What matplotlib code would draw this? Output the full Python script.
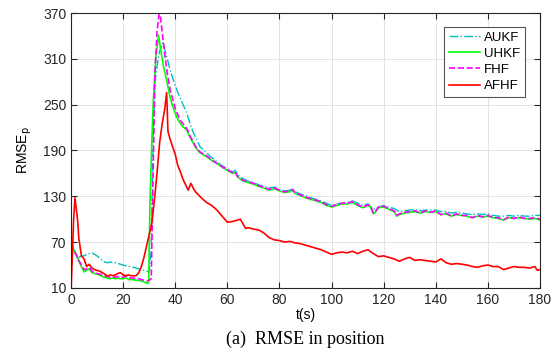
import numpy as np
import matplotlib.pyplot as plt

plt.rcParams['font.family'] = ['Liberation Sans', 'DejaVu Sans']

# AFHF (red)
t_afhf = [0, 1, 1.5, 2.5, 3, 4, 5, 6, 7, 8, 9, 10, 11, 12, 13, 14, 15, 16, 17, 18,
          19, 20, 21, 22, 23, 24, 25, 26, 27, 28, 29, 30, 31, 32, 33, 34, 35, 36,
          36.7, 37.2, 38, 39, 40, 41, 42, 43, 44, 45, 46, 47, 48, 50,
          52, 54, 56, 58, 60, 62, 64, 65, 66, 67, 68, 70, 72, 74, 76, 78, 80, 82,
          84, 86, 88, 90, 92, 94, 96, 98, 100, 102, 104, 106, 108, 110, 112, 114,
          116, 118, 120, 122, 124, 126, 128, 130, 132, 134, 136, 138, 140, 142,
          144, 146, 148, 150, 152, 154, 156, 158, 160, 162, 164, 166, 168, 170,
          172, 174, 176, 178, 179, 180]
afhf = [5, 100, 128, 100, 75, 52, 48, 38, 41, 36, 34, 33, 32, 30, 28, 25, 27, 26, 27, 29,
        30, 27, 26, 27, 26, 26, 26, 30, 38, 50, 65, 80, 95, 125, 160, 200, 225, 245,
        266, 215, 205, 195, 185, 170, 162, 152, 145, 138, 147, 140, 135, 128,
        122, 118, 112, 104, 96, 97, 99, 100, 94, 88, 89, 87, 86, 82, 76, 73, 72, 70,
        71, 69, 68, 66, 64, 62, 60, 57, 54, 56, 57, 56, 58, 55, 58, 60,
        55, 51, 52, 50, 48, 45, 48, 50, 46, 47, 46, 45, 44, 48,
        43, 41, 42, 41, 40, 38, 37, 39, 40, 38, 38, 34, 36, 38,
        37, 37, 36, 38, 33, 34]

# UHKF (green)
t_uhkf = [0, 1, 2, 3, 4, 5, 6, 7, 8, 9, 10, 11, 12, 13, 14, 15, 16, 17, 18, 19, 20,
          21, 22, 23, 24, 25, 26, 27, 28, 29, 29.8, 30.3, 31, 31.6, 32.5, 33.6, 34.5,
          35.5, 36.7, 38, 39, 40.5, 41.8, 43, 44.4, 46, 48, 49.5, 52, 54, 56, 58, 60,
          62, 63, 64, 66, 68, 70, 72, 74, 76, 78, 80, 82, 84, 85, 86, 88, 90, 92, 94,
          96, 98, 100, 102, 104, 106, 108, 110, 112, 114, 115, 116, 117, 118, 120,
          122, 124, 125, 126, 128, 130, 132, 134, 136, 138, 140, 142, 144, 146, 148,
          150, 152, 154, 156, 158, 160, 162, 164, 166, 168, 170, 172, 174, 176, 178, 180]
uhkf = [70, 60, 54, 45, 38, 31, 33, 35, 30, 29, 28, 27, 25, 24, 23, 22, 23, 22, 23, 22, 22,
        24, 21, 21, 21, 20, 20, 19, 18, 16, 17, 120, 200, 256, 310, 341, 320,
        300, 282, 260, 248, 234, 226, 221, 217, 205, 193, 187, 182, 177, 173, 168, 164,
        160, 161, 155, 150, 148, 146, 143, 141, 138, 140, 137, 135, 136, 138, 134, 131, 128, 126, 124,
        122, 118, 116, 118, 120, 120, 122, 118, 115, 118, 116, 107, 110, 115, 116,
        113, 110, 104, 106, 108, 109, 110, 108, 110, 109, 110, 106, 107, 104, 106,
        105, 104, 102, 104, 103, 104, 102, 101, 99, 102, 101, 102, 101, 100, 101, 99]

# FHF (magenta)
t_fhf = [0, 1, 2, 3, 4, 5, 6, 7, 8, 9, 10, 11, 12, 13, 14, 15, 16, 17, 18, 19, 20,
         21, 22, 23, 24, 25, 26, 27, 28, 29, 30, 30.8, 31.3, 32.2, 33, 34, 35, 36, 37,
         38, 40, 41.8, 44.4, 46, 48, 49.5, 52, 54, 56, 58, 60,
         62, 63, 64, 66, 68, 70, 72, 74, 76, 78, 80, 82, 84, 85, 86, 88, 90, 92, 94,
         96, 98, 100, 102, 104, 106, 108, 110, 112, 114, 115, 116, 117, 118, 120,
         122, 124, 125, 126, 128, 130, 132, 134, 136, 138, 140, 142, 144, 146, 148,
         150, 152, 154, 156, 158, 160, 162, 164, 166, 168, 170, 172, 174, 176, 178, 180]
fhf = [68, 60, 53, 46, 40, 34, 35, 37, 32, 30, 29, 28, 27, 26, 25, 24, 25, 24, 25, 24, 24,
       26, 23, 23, 23, 22, 22, 21, 20, 19, 20, 22, 120, 290, 345, 375, 345, 315, 290,
       270, 245, 230, 219, 207, 194, 188, 183, 178, 173, 169, 165,
       161, 162, 156, 151, 149, 147, 144, 142, 139, 141, 138, 136, 137, 139, 135, 132, 129, 127, 125,
       123, 119, 117, 119, 121, 121, 123, 119, 116, 119, 117, 108, 111, 116, 117,
       114, 111, 105, 107, 109, 110, 111, 108, 111, 109, 111, 106, 108, 104, 107,
       105, 105, 102, 105, 103, 105, 102, 102, 99, 103, 101, 103, 101, 101, 102, 100]

# AUKF (cyan)
t_aukf = [0, 1, 2, 3, 4, 5, 6, 7, 8, 9, 10, 11, 12, 13, 14, 15, 16, 17, 18, 19, 20,
          21, 22, 23, 24, 25, 26, 27, 28, 29, 30, 30.8, 31.5, 32.2, 33, 34, 35.3, 36.7,
          38, 39.3, 41, 42, 44.4, 46, 47, 49.5, 52.6, 55, 58, 60,
          62, 63, 64, 66, 68, 70, 72, 74, 76, 78, 80, 82, 84, 85, 86, 88, 90, 92, 94,
          96, 98, 100, 102, 104, 106, 108, 110, 112, 114, 116, 118, 120,
          122, 124, 126, 128, 130, 132, 134, 136, 138, 140, 142, 144, 146, 148,
          150, 152, 154, 156, 158, 160, 162, 164, 166, 168, 170, 172, 174, 176, 178, 180]
aukf = [67, 60, 55, 50, 52, 52, 54, 55, 56, 54, 52, 49, 46, 44, 43, 44, 43, 43, 42, 41, 40,
        39, 38, 38, 37, 36, 35, 34, 33, 32, 31, 60, 200, 278, 300, 320, 331, 313,
        296, 282, 266, 258, 239, 222, 213, 195, 185, 178, 170, 166,
        162, 164, 158, 153, 150, 148, 145, 143, 141, 142, 139, 137, 138, 140, 136, 133, 131, 128, 126,
        124, 121, 118, 120, 121, 122, 124, 121, 118, 120, 113, 116, 118,
        116, 114, 110, 111, 112, 113, 111, 112, 112, 112, 110, 110, 108, 109,
        108, 107, 106, 107, 106, 107, 105, 104, 104, 105, 104, 105, 104, 104, 105, 105]

fig = plt.figure(figsize=(5.57, 3.52), dpi=100)
ax = fig.add_axes([0.1275, 0.182, 0.842, 0.781])

ax.plot(t_aukf, aukf, color=(0.0, 0.75, 0.75), lw=1.0, linestyle='-.', label='AUKF')
ax.plot(t_uhkf, uhkf, color='#00ff00', lw=1.2, label='UHKF')
ax.plot(t_fhf, fhf, color='#ff00ff', lw=1.2, linestyle='--', label='FHF')
ax.plot(t_afhf, afhf, color='#ff0000', lw=1.2, label='AFHF')

ax.set_xlim(0, 180)
ax.set_ylim(10, 370)
ax.set_xticks(np.arange(0, 181, 20))
ax.set_yticks(np.arange(10, 371, 60))
ax.tick_params(direction='in', labelsize=10, colors='#262626', length=4,
               top=True, right=True)
ax.grid(True, color='#e3e3e3', lw=0.7)
for s in ax.spines.values():
    s.set_color('#262626')
    s.set_linewidth(0.8)

ax.set_xlabel('t(s)', fontsize=10, labelpad=1)
ax.set_ylabel(r'RMSE$_\mathrm{p}$', fontsize=10, labelpad=6)

leg = ax.legend(loc='upper right', bbox_to_anchor=(0.968, 0.95), borderaxespad=0,
                fontsize=9.5, fancybox=False, framealpha=1, edgecolor='#555555',
                handlelength=2.4, handletextpad=0.3, borderpad=0.35, labelspacing=0.3)
leg.get_frame().set_linewidth(0.8)

fig.text(0.548, 0.035, '(a)  RMSE in position', ha='center', va='center',
         fontsize=13, family='Liberation Serif')

fig.savefig('out.png', dpi=100)
